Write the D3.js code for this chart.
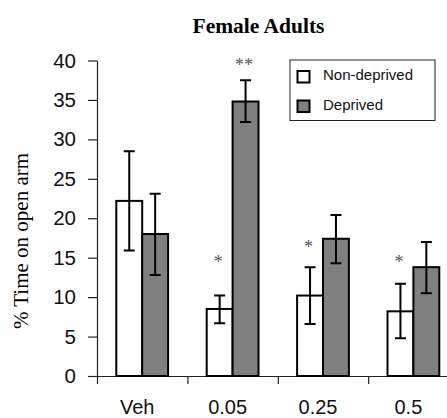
<!DOCTYPE html>
<html>
<head>
<meta charset="utf-8">
<script src="https://cdn.jsdelivr.net/npm/d3@7"></script>
<style>
  body { margin: 0; background: #fff; }
  svg { display: block; }
</style>
</head>
<body>
<div id="wrapper"></div>
<script>
// data
const doses = ["Veh", "0.05", "0.25", "0.5"]
const groups = ["Non-deprived", "Deprived"]
const nonDeprived = [22.2, 8.5, 10.2, 8.2]
const nonDeprivedHigh = [28.5, 10.2, 13.8, 11.7]
const nonDeprivedLow = [15.9, 6.7, 6.6, 4.8]
const deprived = [18.0, 34.8, 17.4, 13.8]
const deprivedHigh = [23.1, 37.5, 20.4, 17.0]
const deprivedLow = [12.8, 32.2, 14.3, 10.5]
// significance marks: [dose, group, mark, height in % units]
const marks = [
  ["0.05", "Non-deprived", "*", 14.7],
  ["0.05", "Deprived", "**", 39.7],
  ["0.25", "Non-deprived", "*", 16.6],
  ["0.5", "Non-deprived", "*", 14.7]
]
const yTicks = [0, 5, 10, 15, 20, 25, 30, 35, 40]

const rows = []
doses.forEach((dose, i) => {
  rows.push({dose, group: groups[0], value: nonDeprived[i], hi: nonDeprivedHigh[i], lo: nonDeprivedLow[i]})
  rows.push({dose, group: groups[1], value: deprived[i], hi: deprivedHigh[i], lo: deprivedLow[i]})
})

const dims = {width: 447, height: 418, left: 97, top: 60.5, bottom: 376, right: 458.6}

const svg = d3.select("#wrapper")
  .append("svg")
    .attr("width", dims.width)
    .attr("height", dims.height)

const yScale = d3.scaleLinear()
  .domain([0, 40])
  .range([dims.bottom, dims.top])

const xScale = d3.scaleBand()
  .domain(doses)
  .range([dims.left, dims.right])

// bars sit in the middle of each band
const innerScale = d3.scaleBand()
  .domain(groups)
  .range([19.3, xScale.bandwidth() - 19.3])

const fills = d3.scaleOrdinal().domain(groups).range(["#ffffff", "#808080"])

// title
svg.append("text")
  .attr("x", 258.5)
  .attr("y", 32.5)
  .attr("text-anchor", "middle")
  .style("font-family", "'Liberation Serif', 'Times New Roman', serif")
  .style("font-weight", "bold")
  .style("font-size", "21.5px")
  .text("Female Adults")

// y axis
const yAxis = svg.append("g")
  .attr("transform", `translate(${dims.left},0)`)
  .call(d3.axisLeft(yScale).tickValues(yTicks).tickSize(9).tickSizeOuter(0).tickPadding(12))
yAxis.selectAll("path, line").attr("stroke", "#222").attr("stroke-width", 1.2)
yAxis.selectAll("text")
  .attr("fill", "#111")
  .style("font-family", "'Liberation Sans', Arial, sans-serif")
  .style("font-size", "20.5px")

// x axis: ticks on the band edges
const edgeScale = d3.scaleLinear().domain([0, doses.length]).range([dims.left, dims.right])
const xAxis = svg.append("g")
  .attr("transform", `translate(0,${dims.bottom})`)
  .call(d3.axisBottom(edgeScale).tickValues(d3.range(doses.length + 1)).tickFormat("").tickSize(8).tickSizeOuter(0))
xAxis.selectAll("path, line").attr("stroke", "#222").attr("stroke-width", 1.2)

svg.append("g")
  .selectAll("text")
  .data(doses)
  .join("text")
    .attr("x", d => xScale(d) + xScale.bandwidth() / 2 - 5)
    .attr("y", 413.5)
    .attr("text-anchor", "middle")
    .attr("fill", "#111")
    .style("font-family", "'Liberation Sans', Arial, sans-serif")
    .style("font-size", "20px")
    .text(d => d)

// y title
svg.append("text")
  .attr("transform", "translate(28,241) rotate(-90)")
  .attr("text-anchor", "middle")
  .style("font-family", "'Liberation Serif', 'Times New Roman', serif")
  .style("font-size", "21px")
  .text("% Time on open arm")

// bars
const barX = d => xScale(d.dose) + innerScale(d.group)
svg.append("g")
  .selectAll("rect")
  .data(rows)
  .join("rect")
    .attr("x", barX)
    .attr("y", d => yScale(d.value))
    .attr("width", innerScale.bandwidth())
    .attr("height", d => yScale(0) - yScale(d.value))
    .attr("fill", d => fills(d.group))
    .attr("stroke", "#000")
    .attr("stroke-width", 2)

// error bars
const capHalf = 5.5
const errs = svg.append("g")
  .attr("stroke", "#000")
  .attr("stroke-width", 2)
  .attr("fill", "none")
errs.selectAll("path")
  .data(rows)
  .join("path")
    .attr("d", d => {
      const cx = barX(d) + innerScale.bandwidth() / 2
      const yh = yScale(d.hi), yl = yScale(d.lo)
      return `M${cx},${yh}V${yl}M${cx - capHalf},${yh}H${cx + capHalf}M${cx - capHalf},${yl}H${cx + capHalf}`
    })

// significance marks
svg.append("g")
  .selectAll("text")
  .data(marks)
  .join("text")
    .attr("x", d => xScale(d[0]) + innerScale(d[1]) + innerScale.bandwidth() / 2 - 1.5)
    .attr("y", d => yScale(d[3]) + 8)
    .attr("text-anchor", "middle")
    .attr("fill", "#555")
    .style("font-family", "'Liberation Serif', 'Times New Roman', serif")
    .style("font-size", "18px")
    .text(d => d[2])

// legend
const legend = svg.append("g").attr("transform", "translate(290,60)")
legend.append("rect")
  .attr("width", 145)
  .attr("height", 60.5)
  .attr("fill", "#fff")
  .attr("stroke", "#222")
  .attr("stroke-width", 1)
const legendItems = legend.selectAll("g.item")
  .data(groups)
  .join("g")
    .attr("class", "item")
    .attr("transform", (d, i) => `translate(0,${i * 29.5})`)
legendItems.append("rect")
  .attr("x", 7.5)
  .attr("y", 11)
  .attr("width", 12)
  .attr("height", 11.5)
  .attr("fill", d => fills(d))
  .attr("stroke", "#000")
  .attr("stroke-width", 2)
legendItems.append("text")
  .attr("x", 33)
  .attr("y", 20)
  .attr("fill", "#111")
  .style("font-family", "'Liberation Sans', Arial, sans-serif")
  .style("font-size", "15px")
  .text(d => d)
</script>
</body>
</html>
